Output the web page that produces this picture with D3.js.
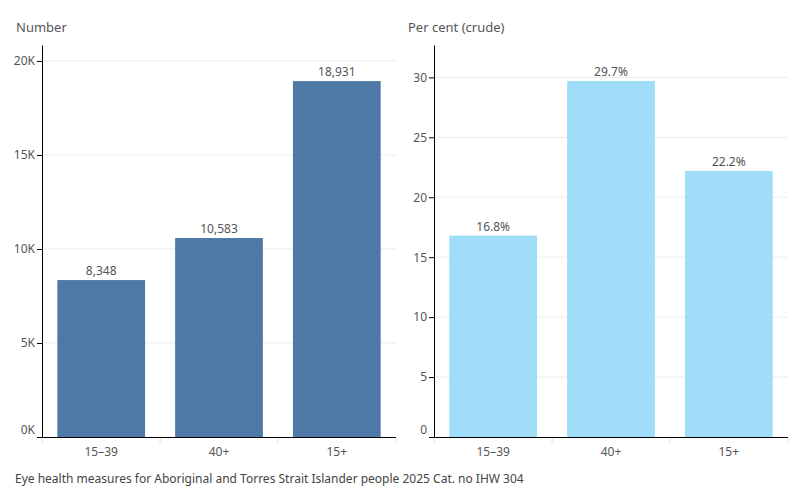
<!DOCTYPE html>
<html>
<head>
<meta charset="utf-8">
<script src="https://cdn.jsdelivr.net/npm/d3@7"></script>
<style>
  body { margin: 0; background: #fff; }
  text { font-family: "Noto Sans", "Open Sans", sans-serif; }
</style>
</head>
<body>
<div id="chart"></div>
<script>
// data
const categories = ["15–39", "40+", "15+"];
const numbers = [8348, 10583, 18931];
const percents = [16.8, 29.7, 22.2];
const numberTicks = [0, 5000, 10000, 15000, 20000];
const percentTicks = [0, 5, 10, 15, 20, 25, 30];

const width = 800, height = 500;
const textColor = "#555";

const svg = d3.select("#chart")
  .append("svg")
  .attr("width", width)
  .attr("height", height);

function panel(opts) {
  const { x0, x1, yTop, yBottom, values, maxY, ticks, tickFmt, labelFmt, color, title } = opts;

  const g = svg.append("g");

  const x = d3.scaleBand()
    .domain(categories)
    .range([x0, x1])
    .paddingInner(0.255)
    .paddingOuter(0.13);

  const y = d3.scaleLinear()
    .domain([0, maxY])
    .range([yBottom, yTop]);

  // gridlines
  g.selectAll(".grid")
    .data(ticks.slice(1))
    .join("line")
    .attr("x1", x0).attr("x2", x1)
    .attr("y1", d => y(d)).attr("y2", d => y(d))
    .attr("stroke", "#ececec")
    .attr("stroke-width", 1);

  // bars
  g.selectAll(".bar")
    .data(values)
    .join("rect")
    .attr("x", (d, i) => x(categories[i]))
    .attr("y", d => y(d))
    .attr("width", x.bandwidth())
    .attr("height", d => yBottom - y(d))
    .attr("fill", color);

  // value labels
  g.selectAll(".lbl")
    .data(values)
    .join("text")
    .attr("x", (d, i) => x(categories[i]) + x.bandwidth() / 2)
    .attr("y", d => y(d) - 5)
    .attr("text-anchor", "middle")
    .attr("font-size", "12px")
    .attr("fill", textColor)
    .text(labelFmt);

  // y axis
  const yAxis = g.append("g")
    .attr("transform", `translate(${x0},0)`)
    .call(d3.axisLeft(y).tickValues(ticks).tickFormat(tickFmt).tickSize(5).tickSizeOuter(0));
  yAxis.select(".domain").attr("stroke", "#000");
  yAxis.selectAll(".tick line").attr("stroke", "#000");
  yAxis.selectAll(".tick text")
    .attr("font-size", "12px")
    .attr("fill", textColor)
    .attr("font-family", "Noto Sans, sans-serif")
    .attr("x", -7)
    .attr("y", d => d === 0 ? -7 : 0);

  // x baseline with band separators
  g.append("line")
    .attr("x1", x0 - 5).attr("x2", x1)
    .attr("y1", yBottom + 0.5).attr("y2", yBottom + 0.5)
    .attr("stroke", "#000");
  const seps = [x0, ...categories.map(c => x(c) + x.bandwidth() + x.step() * x.paddingInner() / 2)];
  seps[seps.length - 1] = x1;
  g.selectAll(".sep")
    .data(seps)
    .join("line")
    .attr("x1", d => d).attr("x2", d => d)
    .attr("y1", yBottom + 1).attr("y2", yBottom + 6)
    .attr("stroke", "#ddd");

  g.selectAll(".xlbl")
    .data(categories)
    .join("text")
    .attr("x", d => x(d) + x.bandwidth() / 2)
    .attr("y", yBottom + 19)
    .attr("text-anchor", "middle")
    .attr("font-size", "12px")
    .attr("fill", textColor)
    .text(d => d);

  // title
  svg.append("text")
    .attr("x", opts.titleX)
    .attr("y", 32)
    .attr("font-size", "13px")
    .attr("fill", textColor)
    .text(title);
}

panel({
  x0: 42, x1: 396, yTop: 45, yBottom: 437,
  values: numbers, maxY: 20850, ticks: numberTicks,
  tickFmt: d => (d / 1000) + "K",
  labelFmt: d => d3.format(",")(d),
  color: "#4e79a7", title: "Number", titleX: 16
});

panel({
  x0: 434, x1: 788, yTop: 45, yBottom: 437,
  values: percents, maxY: 32.7, ticks: percentTicks,
  tickFmt: d => d,
  labelFmt: d => d.toFixed(1) + "%",
  color: "#a0ddf9", title: "Per cent (crude)", titleX: 408
});

// footer
svg.append("text")
  .attr("x", 15)
  .attr("y", 483)
  .attr("font-size", "12px")
  .attr("fill", "#444")
  .text("Eye health measures for Aboriginal and Torres Strait Islander people 2025 Cat. no IHW 304");
</script>
</body>
</html>
